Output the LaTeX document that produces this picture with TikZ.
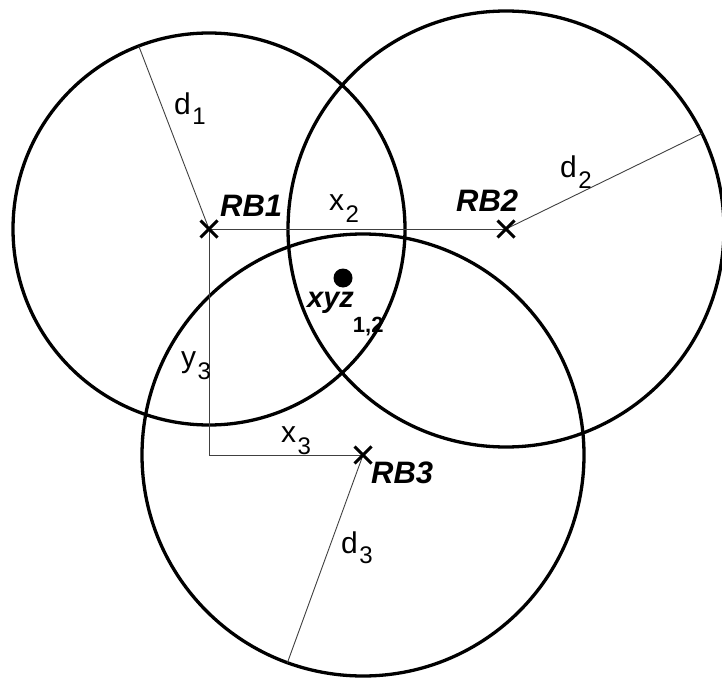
\documentclass[tikz,border=0pt]{standalone}
\usepackage{fontspec}
\setmainfont{Liberation Sans}
\usepackage{tikz}
\usetikzlibrary{shapes.misc, positioning}
\newcommand{\idx}[2][10pt]{\hspace{1.5pt}\raisebox{-#1}{\fontsize{24}{24}\selectfont #2}}

\begin{document}
\begin{tikzpicture}[x=1pt, y=-1pt,
    ring/.style={circle, draw, line width=3.3pt, inner sep=0pt, outer sep=0pt},
    guide/.style={line width=0.9pt, black!75},
    station/.style={cross out, draw, line width=3pt, minimum size=14pt, inner sep=0pt},
    lbl/.style={anchor=base west, inner sep=0pt, font=\fontsize{30}{32}\selectfont},
    tag/.style={lbl, font=\fontsize{31}{33}\selectfont\bfseries\itshape}]
  \useasboundingbox (0,0) rectangle (722,679);
  \coordinate (RB1) at (209,229);
  \coordinate (RB2) at (506,229);
  \coordinate (RB3) at (363,455);
    % the three range circles
    \node[ring, minimum size=392pt] (C1) at (RB1) {};
    \node[ring, minimum size=436pt] (C2) at (RB2) {};
    \node[ring, minimum size=442pt] (C3) at (RB3) {};
    % radii and offsets
    \draw[guide] (RB1) -- (C1.111.7);
    \draw[guide] (RB2) -- (C2.26);
    \draw[guide] (RB3) -- (C3.250);
    \draw[guide] (RB1) -- (RB2);
    \draw[guide] (RB1) |- (RB3);
    \foreach \s in {RB1, RB2, RB3} {
      \node[station] at (\s) {};
    }
    \node[circle, fill, minimum size=19pt, inner sep=0pt] (xyz) at (343,278) {};
    % labels
    \node[lbl] (d1) at (174,115) {d\idx{1}};
    \node[lbl] (d2) at (560,178) {d\idx{2}};
    \node[lbl] (d3) at (341,553) {d\idx{3}};
    \node[lbl] (x2) at (329,210) {x\idx[12pt]{2}};
    \node[lbl] (x3) at (281,442) {x\idx[12pt]{3}};
    \node[lbl] (y3) at (181,367) {y\idx[12pt]{3}};
    \node[tag] (RB1l) at (220,216) {RB1};
    \node[tag] (RB2l) at (456,211) {RB2};
    \node[tag] (RB3l) at (371,483) {RB3};
    \node[tag, font=\fontsize{29}{31}\selectfont\bfseries\itshape] (xyzl) at (307,307)
      {xyz\hspace{-1pt}\raisebox{-25pt}{\fontsize{22}{22}\selectfont\bfseries\upshape 1,2}};
  \end{tikzpicture}
\end{document}
